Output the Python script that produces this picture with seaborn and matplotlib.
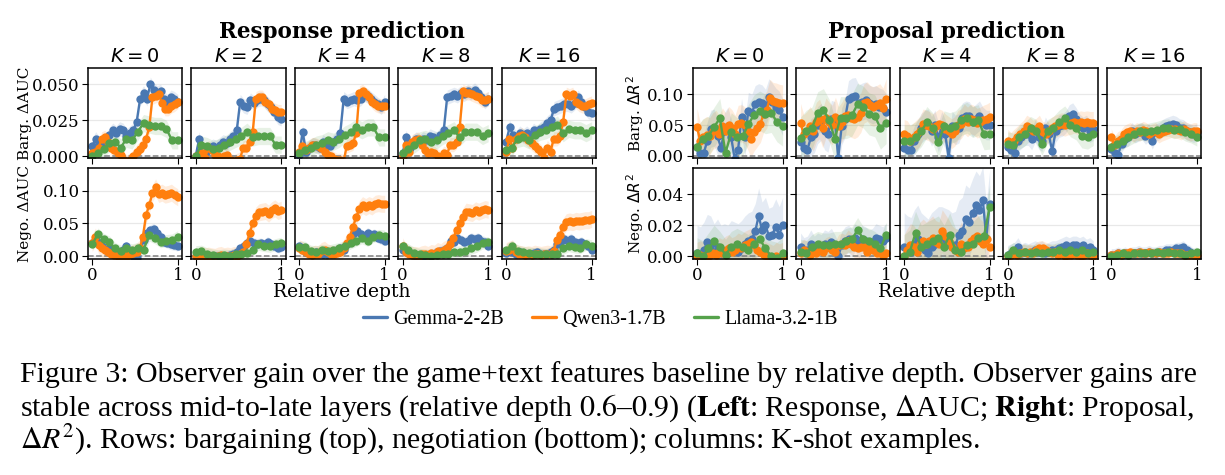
import numpy as np
import pandas as pd
import seaborn as sns
import matplotlib.pyplot as plt
from matplotlib.lines import Line2D

MODELS = ["Gemma-2-2B", "Qwen3-1.7B", "Llama-3.2-1B"]
COLORS = ["#4a78b2", "#ff7f0e", "#55a24b"]
SHOTS = [0, 2, 4, 8, 16]

# ---- Response prediction, bargaining (delta AUC), one list per K ----
RB_GEMMA = [
    [0.007, 0.012, 0.009, 0.008, 0.010, 0.015, 0.018, 0.016, 0.019, 0.018, 0.014, 0.016, 0.018, 0.024, 0.040, 0.044, 0.040, 0.050, 0.046, 0.044, 0.045, 0.040, 0.038, 0.041, 0.040, 0.038],
    [0.000, 0.012, 0.000, 0.003, 0.005, 0.007, 0.006, 0.008, 0.010, 0.009, 0.012, 0.014, 0.018, 0.038, 0.035, 0.034, 0.039, 0.037, 0.039, 0.040, 0.039, 0.036, 0.034, 0.031, 0.027, 0.026],
    [0.001, 0.017, 0.003, 0.006, 0.008, 0.007, 0.006, 0.010, 0.008, 0.007, 0.010, 0.012, 0.016, 0.040, 0.038, 0.039, 0.040, 0.039, 0.040, 0.043, 0.042, 0.040, 0.038, 0.036, 0.034, 0.038],
    [0.002, 0.013, 0.006, 0.010, 0.012, 0.010, 0.012, 0.011, 0.014, 0.013, 0.012, 0.015, 0.018, 0.041, 0.042, 0.043, 0.042, 0.044, 0.043, 0.045, 0.044, 0.046, 0.044, 0.041, 0.038, 0.040],
    [0.010, 0.020, 0.015, 0.013, 0.016, 0.014, 0.016, 0.014, 0.018, 0.016, 0.019, 0.020, 0.023, 0.025, 0.033, 0.034, 0.035, 0.036, 0.036, 0.035, 0.037, 0.041, 0.038, 0.034, 0.031, 0.030],
]
RB_QWEN = [
    [0.002, 0.003, 0.006, 0.012, 0.013, 0.010, 0.006, 0.004, 0.002, 0.001, -0.003, -0.004, -0.003, 0.000, 0.003, 0.005, 0.008, 0.012, 0.020, 0.041, 0.042, 0.043, 0.037, 0.033, 0.033, 0.035, 0.036, 0.038],
    [0.000, 0.001, 0.002, -0.001, 0.006, 0.004, 0.001, 0.000, -0.002, 0.000, 0.001, -0.003, -0.004, -0.003, -0.002, 0.006, 0.006, 0.010, 0.017, 0.040, 0.041, 0.041, 0.038, 0.036, 0.033, 0.032, 0.031, 0.031],
    [0.003, 0.007, 0.004, 0.006, 0.008, 0.008, 0.007, 0.006, 0.003, 0.001, 0.000, -0.002, -0.003, -0.003, -0.004, 0.007, 0.008, 0.009, 0.016, 0.044, 0.045, 0.043, 0.041, 0.038, 0.036, 0.035, 0.035, 0.035],
    [0.000, 0.008, 0.003, 0.010, 0.011, 0.012, 0.008, 0.004, 0.002, 0.003, 0.002, 0.000, -0.001, 0.002, 0.001, 0.008, 0.008, 0.010, 0.020, 0.045, 0.044, 0.044, 0.043, 0.042, 0.041, 0.039, 0.039, 0.040],
    [0.003, 0.012, 0.006, 0.012, 0.014, 0.015, 0.013, 0.011, 0.009, 0.007, 0.005, 0.003, -0.001, 0.006, 0.003, 0.012, 0.012, 0.014, 0.024, 0.043, 0.042, 0.043, 0.038, 0.036, 0.035, 0.035, 0.036, 0.037],
]
RB_LLAMA = [
    [0.000, 0.002, 0.005, 0.009, 0.010, 0.006, 0.012, 0.011, 0.017, 0.023, 0.022, 0.021, 0.021, 0.019, 0.011, 0.011],
    [0.000, 0.008, 0.007, 0.005, 0.006, 0.008, 0.010, 0.012, 0.014, 0.017, 0.013, 0.014, 0.014, 0.014, 0.008, 0.008],
    [0.002, 0.004, 0.006, 0.008, 0.009, 0.011, 0.010, 0.012, 0.015, 0.017, 0.020, 0.018, 0.020, 0.020, 0.013, 0.013],
    [0.002, 0.005, 0.008, 0.011, 0.012, 0.010, 0.011, 0.014, 0.016, 0.018, 0.013, 0.017, 0.017, 0.017, 0.014, 0.016],
    [0.004, 0.006, 0.012, 0.013, 0.011, 0.015, 0.017, 0.018, 0.020, 0.022, 0.016, 0.019, 0.018, 0.018, 0.016, 0.018],
]

# ---- Response prediction, negotiation (delta AUC) ----
RN_GEMMA = [
    [0.020, 0.025, 0.020, 0.015, 0.010, 0.012, 0.008, 0.005, 0.004, 0.010, 0.015, 0.005, 0.000, -0.002, 0.012, 0.025, 0.035, 0.040, 0.042, 0.035, 0.030, 0.022, 0.020, 0.018, 0.017, 0.016],
    [0.000, 0.003, 0.002, 0.000, 0.001, 0.000, 0.000, 0.001, 0.000, 0.000, 0.002, 0.004, 0.006, 0.012, 0.015, 0.020, 0.024, 0.020, 0.019, 0.020, 0.018, 0.022, 0.018, 0.016, 0.013, 0.014],
    [0.015, 0.010, 0.006, 0.005, 0.004, 0.006, 0.005, 0.004, 0.003, 0.006, 0.007, 0.010, 0.012, 0.010, 0.018, 0.028, 0.035, 0.038, 0.034, 0.030, 0.036, 0.032, 0.034, 0.028, 0.026, 0.024],
    [0.010, 0.007, 0.005, 0.002, 0.001, 0.000, 0.000, 0.002, 0.003, 0.004, 0.006, 0.008, 0.010, 0.012, 0.023, 0.022, 0.028, 0.025, 0.022, 0.024, 0.028, 0.026, 0.028, 0.024, 0.022, 0.015],
    [0.005, 0.008, 0.006, 0.004, 0.006, 0.005, 0.003, 0.004, 0.005, 0.006, 0.004, 0.003, 0.004, 0.006, 0.010, 0.018, 0.024, 0.026, 0.024, 0.027, 0.022, 0.020, 0.022, 0.018, 0.016, 0.010],
]
RN_QWEN = [
    [0.020, 0.030, 0.017, 0.012, 0.010, 0.007, 0.004, 0.002, 0.000, -0.003, 0.002, 0.000, 0.003, 0.005, 0.007, 0.012, 0.030, 0.063, 0.078, 0.096, 0.105, 0.095, 0.097, 0.094, 0.095, 0.097, 0.093, 0.090],
    [0.000, -0.002, 0.002, 0.000, 0.001, 0.000, -0.001, 0.001, 0.002, 0.000, 0.001, 0.000, 0.002, 0.001, 0.003, 0.006, 0.018, 0.035, 0.050, 0.062, 0.067, 0.068, 0.069, 0.065, 0.070, 0.073, 0.069, 0.071],
    [0.012, 0.010, 0.006, 0.003, 0.002, 0.004, 0.003, 0.008, 0.010, 0.006, 0.004, 0.003, 0.005, 0.006, 0.012, 0.020, 0.030, 0.045, 0.060, 0.072, 0.078, 0.075, 0.078, 0.076, 0.080, 0.081, 0.080, 0.080],
    [0.015, 0.006, 0.003, 0.002, 0.002, 0.001, 0.003, 0.004, 0.002, 0.005, 0.004, 0.008, 0.006, 0.010, 0.012, 0.018, 0.028, 0.040, 0.050, 0.060, 0.068, 0.067, 0.066, 0.070, 0.068, 0.070, 0.072, 0.071],
    [0.008, 0.010, 0.012, 0.006, 0.004, 0.003, 0.002, 0.003, 0.002, 0.004, 0.003, 0.002, 0.003, 0.004, 0.003, 0.008, 0.025, 0.033, 0.045, 0.052, 0.053, 0.052, 0.054, 0.053, 0.054, 0.055, 0.055, 0.057],
]
RN_LLAMA = [
    [0.018, 0.034, 0.026, 0.022, 0.012, 0.008, 0.012, 0.010, 0.012, 0.010, 0.032, 0.028, 0.022, 0.024, 0.025, 0.030],
    [0.007, 0.008, 0.004, 0.002, 0.001, 0.002, 0.001, 0.003, 0.004, 0.005, 0.010, 0.018, 0.016, 0.015, 0.018, 0.020],
    [0.014, 0.014, 0.008, 0.007, 0.009, 0.008, 0.010, 0.012, 0.015, 0.020, 0.024, 0.028, 0.024, 0.030, 0.032, 0.031],
    [0.015, 0.010, 0.005, 0.003, 0.002, 0.001, 0.002, 0.003, 0.004, 0.006, 0.007, 0.008, 0.012, 0.015, 0.020, 0.021],
    [0.010, 0.015, 0.008, 0.006, 0.005, 0.004, 0.004, 0.003, 0.004, 0.003, 0.012, 0.016, 0.014, 0.013, 0.018, 0.016],
]

# ---- Proposal prediction, bargaining (delta R^2) ----
PB_GEMMA = [
    [0.015, 0.005, 0.005, 0.025, 0.044, 0.046, 0.032, 0.013, 0.040, 0.049, 0.030, -0.005, 0.010, 0.063, 0.030, 0.073, 0.070, 0.084, 0.087, 0.085, 0.078, 0.095, 0.088, 0.080, 0.075, 0.063],
    [0.022, 0.013, 0.010, 0.030, 0.035, 0.050, 0.055, 0.040, 0.036, 0.060, 0.058, -0.003, 0.048, 0.060, 0.092, 0.096, 0.097, 0.085, 0.088, 0.090, 0.085, 0.082, 0.084, 0.080, 0.078, 0.071],
    [0.013, 0.010, 0.010, 0.025, 0.035, 0.045, 0.050, 0.052, 0.040, 0.050, 0.030, 0.048, 0.035, -0.003, 0.048, 0.042, 0.045, 0.062, 0.065, 0.064, 0.055, 0.060, 0.065, 0.055, 0.050, 0.050],
    [0.015, 0.010, 0.005, 0.025, 0.030, 0.035, 0.035, 0.028, 0.040, 0.030, 0.025, 0.045, 0.035, 0.008, 0.040, 0.048, 0.050, 0.055, 0.065, 0.068, 0.060, 0.050, 0.045, 0.048, 0.040, 0.043],
    [0.012, 0.005, 0.002, 0.020, 0.028, 0.030, 0.040, 0.035, 0.038, 0.040, 0.033, 0.038, 0.025, 0.038, 0.040, 0.045, 0.048, 0.050, 0.052, 0.050, 0.046, 0.045, 0.040, 0.038, 0.036, 0.038],
]
PB_QWEN = [
    [0.047, 0.024, 0.030, 0.034, 0.032, 0.040, 0.044, 0.036, 0.048, 0.040, 0.050, 0.045, 0.036, 0.052, 0.053, 0.050, 0.040, 0.028, 0.038, 0.045, 0.052, 0.068, 0.075, 0.094, 0.089, 0.088, 0.086, 0.085],
    [0.053, 0.035, 0.040, 0.048, 0.040, 0.055, 0.060, 0.045, 0.062, 0.055, 0.050, 0.063, 0.048, 0.055, 0.065, 0.066, 0.062, 0.060, 0.063, 0.070, 0.085, 0.088, 0.082, 0.080, 0.082, 0.085, 0.078, 0.093],
    [0.035, 0.033, 0.025, 0.030, 0.035, 0.040, 0.052, 0.050, 0.048, 0.044, 0.048, 0.052, 0.050, 0.044, 0.040, 0.036, 0.040, 0.050, 0.052, 0.060, 0.055, 0.060, 0.058, 0.053, 0.055, 0.058, 0.060, 0.063],
    [0.025, 0.020, 0.025, 0.030, 0.035, 0.040, 0.048, 0.045, 0.040, 0.043, 0.048, 0.038, 0.036, 0.040, 0.045, 0.048, 0.050, 0.052, 0.050, 0.052, 0.053, 0.055, 0.053, 0.055, 0.054, 0.055, 0.054, 0.054],
    [0.030, 0.018, 0.025, 0.028, 0.035, 0.038, 0.040, 0.036, 0.040, 0.038, 0.042, 0.040, 0.036, 0.038, 0.040, 0.035, 0.038, 0.040, 0.042, 0.044, 0.043, 0.042, 0.040, 0.043, 0.040, 0.038, 0.040, 0.040],
]
PB_LLAMA = [
    [0.015, 0.028, 0.032, 0.047, 0.061, 0.005, 0.038, 0.030, 0.032, 0.051, 0.067, 0.073, 0.068, 0.070, 0.055, 0.048],
    [0.029, 0.040, 0.045, 0.070, 0.075, 0.058, 0.028, 0.062, 0.062, 0.066, 0.084, 0.079, 0.068, 0.065, 0.045, 0.054],
    [0.025, 0.025, 0.030, 0.040, 0.055, 0.045, 0.022, 0.048, 0.045, 0.048, 0.058, 0.062, 0.055, 0.058, 0.035, 0.036],
    [0.020, 0.018, 0.030, 0.035, 0.045, 0.040, 0.020, 0.040, 0.045, 0.055, 0.062, 0.050, 0.045, 0.032, 0.030, 0.036],
    [0.015, 0.020, 0.025, 0.030, 0.035, 0.040, 0.038, 0.040, 0.042, 0.045, 0.046, 0.042, 0.044, 0.038, 0.035, 0.030],
]

# ---- Proposal prediction, negotiation (delta R^2) ----
PN_GEMMA = [
    [0.002, 0.001, 0.004, 0.009, 0.008, 0.003, 0.006, 0.002, 0.003, 0.002, 0.005, 0.004, 0.003, 0.005, 0.008, 0.010, 0.011, 0.016, 0.026, 0.017, 0.020, 0.013, 0.014, 0.019, 0.014, 0.020],
    [0.006, 0.003, 0.004, 0.008, 0.004, 0.006, 0.005, 0.008, 0.007, 0.009, 0.005, 0.000, 0.007, 0.010, 0.011, 0.009, 0.012, 0.008, 0.011, 0.010, 0.008, 0.009, 0.012, 0.011, 0.010, 0.012],
    [0.006, 0.004, 0.003, 0.008, 0.011, 0.006, 0.004, 0.002, 0.006, 0.008, 0.010, 0.010, 0.009, 0.008, 0.006, 0.007, 0.014, 0.016, 0.024, 0.022, 0.028, 0.033, 0.030, 0.036, 0.012, 0.034],
    [0.001, 0.002, 0.003, 0.006, 0.002, 0.003, 0.002, 0.003, 0.004, 0.003, 0.004, 0.002, 0.003, 0.004, 0.004, 0.005, 0.006, 0.007, 0.006, 0.007, 0.007, 0.006, 0.007, 0.005, 0.006, 0.004],
    [0.001, 0.001, 0.002, 0.001, 0.002, 0.001, 0.002, 0.002, 0.003, 0.002, 0.002, 0.003, 0.002, 0.002, 0.003, 0.003, 0.004, 0.004, 0.004, 0.005, 0.005, 0.006, 0.004, 0.003, 0.001, 0.000],
]
PN_QWEN = [
    [0.000, 0.001, 0.000, -0.001, 0.001, 0.002, 0.001, 0.003, 0.002, 0.004, 0.005, 0.003, 0.004, 0.006, 0.005, 0.007, 0.008, 0.009, 0.007, 0.004, 0.003, 0.001, 0.000, -0.001, -0.002, 0.000, -0.001, 0.000],
    [0.002, 0.004, 0.003, 0.001, 0.003, 0.002, 0.004, 0.003, 0.005, 0.006, 0.004, 0.003, 0.007, 0.008, 0.007, 0.010, 0.008, 0.006, 0.005, 0.006, 0.006, 0.003, 0.005, 0.004, 0.002, 0.003, 0.000, 0.002],
    [0.000, 0.004, 0.007, 0.006, 0.003, 0.008, 0.010, 0.008, 0.010, 0.012, 0.009, 0.008, 0.016, 0.013, 0.010, 0.006, 0.004, 0.003, 0.008, 0.005, 0.006, 0.010, 0.012, 0.013, 0.010, 0.008, 0.011, 0.006],
    [0.000, 0.001, 0.002, 0.001, 0.002, 0.003, 0.002, 0.003, 0.002, 0.004, 0.005, 0.005, 0.004, 0.003, 0.002, 0.003, 0.001, 0.002, 0.000, 0.001, 0.001, 0.002, 0.001, 0.000, 0.001, 0.002, 0.001, 0.000],
    [0.001, 0.001, 0.002, 0.001, 0.002, 0.002, 0.003, 0.002, 0.002, 0.003, 0.002, 0.002, 0.003, 0.002, 0.002, 0.003, 0.002, 0.002, 0.002, 0.003, 0.002, 0.002, 0.002, 0.001, 0.001, 0.001, 0.001, 0.001],
]
PN_LLAMA = [
    [0.002, 0.000, 0.005, 0.010, 0.006, 0.001, 0.006, 0.008, 0.006, 0.004, 0.008, 0.011, 0.005, 0.000, -0.001, 0.002],
    [0.003, 0.002, 0.006, 0.008, 0.007, 0.007, 0.008, 0.008, 0.010, 0.011, 0.017, 0.011, 0.010, 0.008, 0.005, 0.014],
    [0.000, 0.003, 0.015, 0.006, 0.008, 0.010, 0.012, 0.006, 0.014, 0.004, 0.003, 0.007, 0.008, 0.012, 0.013, 0.032],
    [0.001, 0.004, 0.002, 0.003, 0.002, 0.003, 0.002, 0.003, 0.003, 0.004, 0.003, 0.004, 0.003, 0.004, 0.002, 0.003],
    [0.000, 0.001, 0.002, 0.001, 0.002, 0.002, 0.002, 0.002, 0.003, 0.002, 0.003, 0.002, 0.002, 0.001, 0.002, 0.003],
]

# band half-widths (95% CI), per K, for [Gemma, Qwen, Llama]
RB_BAND = [[0.005, 0.005, 0.006]] * 5
RN_BAND = [[0.008, 0.013, 0.009]] * 5
PB_BAND = [[0.03, 0.03, 0.032], [0.03, 0.032, 0.034], [0.024, 0.024, 0.025], [0.018, 0.018, 0.019], [0.014, 0.014, 0.014]]
PN_BAND = [[0.018, 0.009, 0.01], [0.009, 0.007, 0.008], [0.022, 0.014, 0.014], [0.006, 0.005, 0.005], [0.004, 0.003, 0.003]]

sns.set_style("ticks")
plt.rcParams['font.family'] = ['DejaVu Serif']
plt.rcParams['mathtext.fontset'] = 'dejavusans'
for key in ['text.color', 'axes.labelcolor', 'xtick.color', 'ytick.color', 'axes.edgecolor']:
    plt.rcParams[key] = 'black'

fig = plt.figure(figsize=(12.25, 4.75), dpi=100)


def draw_group(gs, rows, bands, ylims, yticks, yticklabels, ylabels, label_x, title, xc):
    axes = gs.subplots(sharex=True, sharey='row')
    for r in range(2):
        for c, k in enumerate(SHOTS):
            ax = axes[r, c]
            frames = []
            for m, name in enumerate(MODELS):
                vals = rows[r][m][c]
                frames.append(pd.DataFrame({'depth': np.linspace(0, 1, len(vals)),
                                            'gain': vals, 'model': name}))
            df = pd.concat(frames, ignore_index=True)
            for m, name in enumerate(MODELS):
                sub = df[df.model == name]
                hw = bands[r][c][m]
                ax.fill_between(sub.depth, sub.gain - hw, sub.gain + hw,
                                color=COLORS[m], alpha=0.14, lw=0)
            sns.lineplot(data=df, x='depth', y='gain', hue='model', palette=COLORS,
                         marker='o', markersize=6, markeredgewidth=0, linewidth=1.7,
                         legend=False, ax=ax, errorbar=None)
            ax.axhline(0, color='#808080', ls='--', lw=1.1, zorder=1)
            ax.set_xlim(-0.05, 1.05)
            ax.set_ylim(*ylims[r])
            ax.set_xticks([0, 1])
            ax.set_xticklabels(['0', '1'])
            ax.set_yticks(yticks[r])
            ax.set_yticklabels(yticklabels[r])
            ax.yaxis.grid(True, color='#e8e8e8', lw=0.9)
            ax.set_axisbelow(True)
            ax.tick_params(labelsize=12, length=4, width=0.8, pad=2)
            for s in ax.spines.values():
                s.set_visible(True)
                s.set_color('black')
                s.set_linewidth(1.1)
            ax.set_xlabel('')
            if c == 0:
                ax.set_ylabel(ylabels[r], fontsize=11)
                ax.yaxis.set_label_coords(label_x, 0.5)
            else:
                ax.set_ylabel('')
            if r == 0:
                ax.set_title(f'$K={k}$', fontsize=14, pad=4)
    fig.text(xc, 0.932, title, ha='center', va='center', fontsize=15.5, fontweight='bold')
    fig.text(xc, 0.385, 'Relative depth', ha='center', va='center', fontsize=13.5)
    return axes


gs_left = fig.add_gridspec(2, 5, left=0.0718, right=0.4865, top=0.857, bottom=0.455,
                           wspace=0.1, hspace=0.11)
gs_right = fig.add_gridspec(2, 5, left=0.5655, right=0.9805, top=0.857, bottom=0.455,
                            wspace=0.1, hspace=0.11)

draw_group(gs_left,
           [[RB_GEMMA, RB_QWEN, RB_LLAMA], [RN_GEMMA, RN_QWEN, RN_LLAMA]],
           [RB_BAND, RN_BAND],
           [(-0.0016, 0.0614), (-0.004, 0.134)],
           [[0, 0.025, 0.05], [0, 0.05, 0.10]],
           [['0.000', '0.025', '0.050'], ['0.00', '0.05', '0.10']],
           ['Barg. ΔAUC', 'Nego. ΔAUC'], -0.6,
           'Response prediction', 0.279)

draw_group(gs_right,
           [[PB_GEMMA, PB_QWEN, PB_LLAMA], [PN_GEMMA, PN_QWEN, PN_LLAMA]],
           [PB_BAND, PN_BAND],
           [(-0.004, 0.1425), (-0.0017, 0.0567)],
           [[0, 0.05, 0.10], [0, 0.02, 0.04]],
           [['0.00', '0.05', '0.10'], ['0.00', '0.02', '0.04']],
           [r'Barg. $\Delta R^2$', r'Nego. $\Delta R^2$'], -0.5,
           'Proposal prediction', 0.773)

handles = [Line2D([0], [0], color=COLORS[i], lw=2.4) for i in range(3)]
fig.legend(handles, MODELS, loc='center', bbox_to_anchor=(0.49, 0.328), ncol=3,
           frameon=False, handlelength=1.2, handletextpad=0.3, columnspacing=1.4,
           prop={'family': 'Liberation Serif', 'size': 14.5})

cap = dict(ha='left', va='center', fontsize=21.5, family='Liberation Serif',
           math_fontfamily='stix')
fig.text(0.016, 0.211, "Figure 3: Observer gain over the game+text features baseline by relative depth. Observer gains are", **cap)
fig.text(0.016, 0.141, r"stable across mid-to-late layers (relative depth $0.6$–$0.9$) ($\mathbf{Left}$: Response, $\Delta$AUC; $\mathbf{Right}$: Proposal,", **cap)
fig.text(0.016, 0.074, r"$\Delta R^2$). Rows: bargaining (top), negotiation (bottom); columns: K-shot examples.", **cap)

fig.savefig('out.png', dpi=100)
